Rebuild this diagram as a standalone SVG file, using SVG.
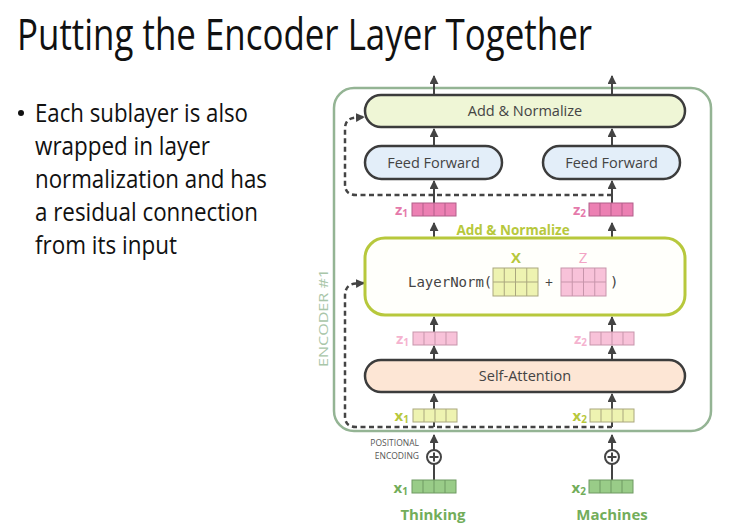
<svg xmlns="http://www.w3.org/2000/svg" width="732" height="526" viewBox="0 0 732 526">
<defs>
<style>
.t{font-family:"Open Sans","Liberation Sans",sans-serif;}
.blk{font-family:"Open Sans","Liberation Sans",sans-serif;fill:#111;}
.lbl{font-family:"Open Sans","Liberation Sans",sans-serif;font-size:14.5px;fill:#444;text-anchor:middle;}
.box{stroke:#3c3c3c;stroke-width:2.5;}
.arr{stroke:#444;stroke-width:2;fill:none;marker-end:url(#ah);}
.dash{stroke:#444;stroke-width:2.5;fill:none;stroke-dasharray:5 3.5;marker-end:url(#ah);}
.zd{fill:#ec80b3;stroke:#b25f8a;}
.zl{fill:#f8c2d9;stroke:#c795ab;}
.xy{fill:#eef3b1;stroke:#aaa77e;}
.xg{fill:#99cc88;stroke:#6f9a62;}
.vl{font-family:"Open Sans","Liberation Sans",sans-serif;font-size:15px;font-weight:bold;text-anchor:end;}
</style>
<marker id="ah" viewBox="0 0 10 10" refX="9" refY="5" markerWidth="9" markerHeight="9" markerUnits="userSpaceOnUse" orient="auto">
<path d="M0,0 L10,5 L0,10 z" fill="#444"/>
</marker>
<g id="v4">
<rect x="0" y="0" width="44" height="13"/>
<path d="M11,0 V13 M22,0 V13 M33,0 V13" fill="none"/>
</g>
<g id="m42">
<rect x="0" y="0" width="45" height="28"/>
<path d="M11.25,0 V28 M22.5,0 V28 M33.75,0 V28 M0,14 H45" fill="none"/>
</g>
</defs>
<rect width="732" height="526" fill="#ffffff"/>

<text class="t" x="17" y="50" font-size="43" fill="#111" textLength="575" lengthAdjust="spacingAndGlyphs">Putting the Encoder Layer Together</text>

<g id="bullets" class="blk" font-size="26">
<circle cx="21" cy="113" r="3" fill="#111"/>
<text x="35" y="122" textLength="213" lengthAdjust="spacingAndGlyphs">Each sublayer is also</text>
<text x="35" y="155" textLength="175" lengthAdjust="spacingAndGlyphs">wrapped in layer</text>
<text x="35" y="188" textLength="232" lengthAdjust="spacingAndGlyphs">normalization and has</text>
<text x="35" y="221" textLength="223" lengthAdjust="spacingAndGlyphs">a residual connection</text>
<text x="35" y="254" textLength="142" lengthAdjust="spacingAndGlyphs">from its input</text>
</g>

<g id="encoder">
<rect x="334" y="88" width="377" height="343" rx="20" fill="none" stroke="#94b494" stroke-width="2.5"/>
<text class="t" transform="translate(328,318) rotate(-90)" font-size="13.5" fill="#a9c6a9" text-anchor="middle" textLength="98" lengthAdjust="spacingAndGlyphs">ENCODER #1</text>
</g>

<g id="connectors">
<line class="arr" x1="434" y1="95" x2="434" y2="76"/>
<line class="arr" x1="612" y1="95" x2="612" y2="76"/>
<line class="arr" x1="434" y1="146" x2="434" y2="129"/>
<line class="arr" x1="612" y1="146" x2="612" y2="129"/>
<line class="arr" x1="434" y1="203" x2="434" y2="181"/>
<line class="arr" x1="612" y1="203" x2="612" y2="181"/>
<line class="arr" x1="434" y1="237" x2="434" y2="223"/>
<line class="arr" x1="612" y1="237" x2="612" y2="223"/>
<line class="arr" x1="434" y1="332" x2="434" y2="317"/>
<line class="arr" x1="612" y1="332" x2="612" y2="317"/>
<line class="arr" x1="434" y1="360" x2="434" y2="346"/>
<line class="arr" x1="612" y1="360" x2="612" y2="346"/>
<line class="arr" x1="434" y1="427" x2="434" y2="394"/>
<line class="arr" x1="612" y1="427" x2="612" y2="394"/>
<line class="arr" x1="434" y1="450" x2="434" y2="435"/>
<line class="arr" x1="612" y1="450" x2="612" y2="435"/>
<line x1="434" y1="464" x2="434" y2="480" stroke="#444" stroke-width="2"/>
<line x1="612" y1="464" x2="612" y2="480" stroke="#444" stroke-width="2"/>
<path class="dash" d="M612,195 H356 Q345,195 345,184 V129 Q345,118 356,117.5 L364,117"/>
<path class="dash" d="M612,427 H356 Q345,427 345,416 V296 Q345,284 356,283.5 L364,283"/>
</g>

<g id="add-norm-top">
<rect class="box" x="365" y="95" width="320" height="32" rx="16" fill="#eff6d6"/>
<text class="lbl" x="525" y="116">Add &amp; Normalize</text>
</g>
<g id="ff1">
<rect class="box" x="365" y="146" width="137" height="33" rx="16.5" fill="#e3eef9"/>
<text class="lbl" x="433.5" y="168">Feed Forward</text>
</g>
<g id="ff2">
<rect class="box" x="543" y="146" width="137" height="33" rx="16.5" fill="#e3eef9"/>
<text class="lbl" x="611.5" y="168">Feed Forward</text>
</g>

<g id="z-top">
<use href="#v4" x="412" y="203" class="zd"/>
<use href="#v4" x="589" y="203" class="zd"/>
<text class="vl" x="408" y="215" fill="#e57aab">z<tspan font-size="10" dy="2">1</tspan></text>
<text class="vl" x="586" y="215" fill="#e57aab">z<tspan font-size="10" dy="2">2</tspan></text>
</g>

<g id="layernorm">
<text class="t" x="513" y="235" font-size="13.5" font-weight="bold" fill="#b7c83c" text-anchor="middle">Add &amp; Normalize</text>
<rect x="365" y="238" width="320" height="77" rx="20" fill="#fffffb" stroke="#b7c83c" stroke-width="3"/>
<text x="408" y="287" font-family="'DejaVu Sans Mono','Liberation Mono',monospace" font-size="14" fill="#444">LayerNorm(</text>
<use href="#m42" x="493" y="268" class="xy"/>
<text class="t" x="516" y="263" font-size="15" font-weight="bold" fill="#b7c83c" text-anchor="middle">X</text>
<text class="t" x="549" y="288" font-size="14" fill="#444" text-anchor="middle">+</text>
<use href="#m42" x="561" y="268" class="zl"/>
<text class="t" x="583" y="263" font-size="15" fill="#f2a3c4" text-anchor="middle">Z</text>
<text x="610" y="287" font-family="'DejaVu Sans Mono','Liberation Mono',monospace" font-size="14" fill="#444">)</text>
</g>

<g id="z-light">
<use href="#v4" x="413" y="332" class="zl"/>
<use href="#v4" x="590" y="332" class="zl"/>
<text class="vl" x="409" y="344" fill="#f5b3cf">z<tspan font-size="10" dy="2">1</tspan></text>
<text class="vl" x="587" y="344" fill="#f5b3cf">z<tspan font-size="10" dy="2">2</tspan></text>
</g>

<g id="self-attention">
<rect class="box" x="365" y="360" width="320" height="32" rx="16" fill="#fde6d5"/>
<text class="lbl" x="525" y="381">Self-Attention</text>
</g>

<g id="x-yellow">
<use href="#v4" x="413" y="409" class="xy"/>
<use href="#v4" x="590" y="409" class="xy"/>
<text class="vl" x="409" y="421" fill="#b7c83c">x<tspan font-size="10" dy="2">1</tspan></text>
<text class="vl" x="587" y="421" fill="#b7c83c">x<tspan font-size="10" dy="2">2</tspan></text>
</g>

<g id="positional">
<text class="t" x="419" y="446" font-size="8.5" fill="#555" text-anchor="end">POSITIONAL</text>
<text class="t" x="419" y="458.5" font-size="8.5" fill="#555" text-anchor="end">ENCODING</text>
<g fill="#fff" stroke="#444" stroke-width="2">
<circle cx="434" cy="457" r="7"/>
<circle cx="612" cy="457" r="7"/>
</g>
<path d="M429.5,457 H438.5 M434,452.5 V461.5 M607.5,457 H616.5 M612,452.5 V461.5" stroke="#444" stroke-width="2"/>
</g>

<g id="inputs">
<use href="#v4" x="412" y="480" class="xg"/>
<use href="#v4" x="589" y="480" class="xg"/>
<text class="vl" x="408" y="493" fill="#72ad5a">x<tspan font-size="10" dy="2">1</tspan></text>
<text class="vl" x="586" y="493" fill="#72ad5a">x<tspan font-size="10" dy="2">2</tspan></text>
<text class="t" x="433" y="520" font-size="15" font-weight="bold" fill="#72ad5a" text-anchor="middle">Thinking</text>
<text class="t" x="612" y="520" font-size="15" font-weight="bold" fill="#72ad5a" text-anchor="middle">Machines</text>
</g>
</svg>
